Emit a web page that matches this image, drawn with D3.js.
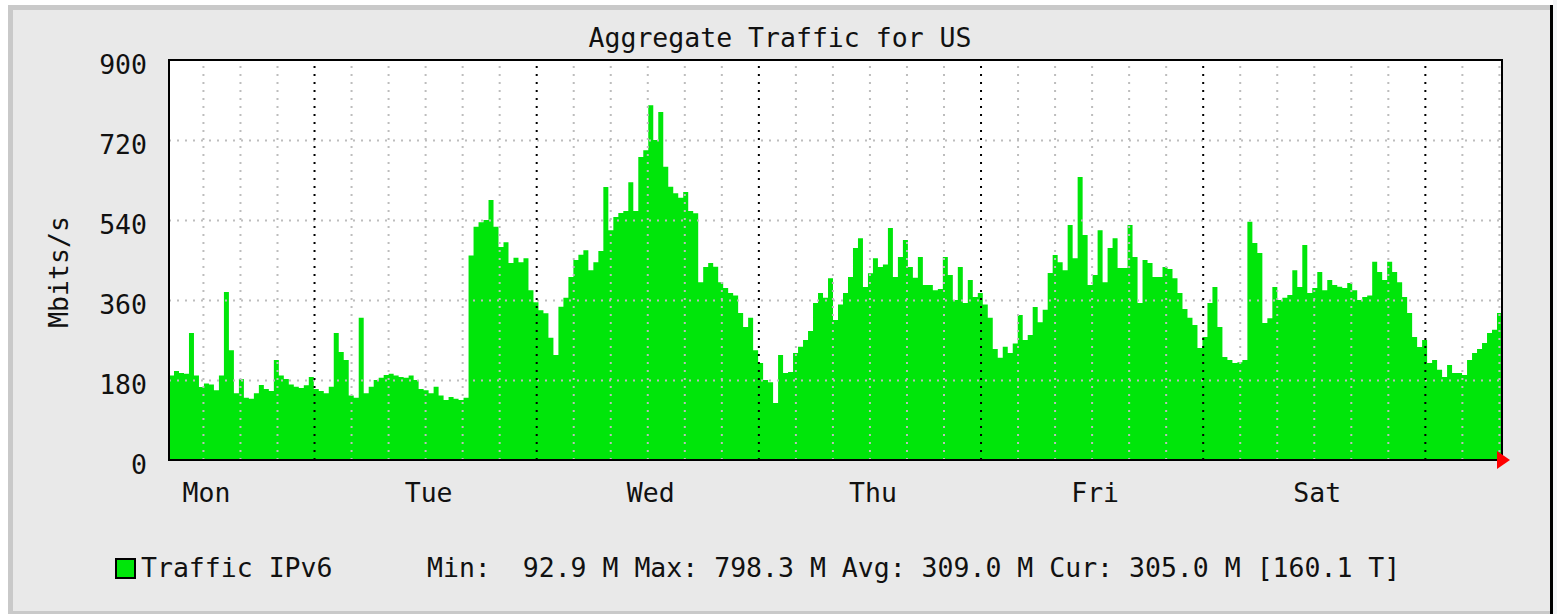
<!DOCTYPE html>
<html>
<head>
<meta charset="utf-8">
<script src="https://cdn.jsdelivr.net/npm/d3@7"></script>
<style>
  html, body { margin: 0; padding: 0; background: #fff; }
  svg { display: block; }
  text { font-family: "DejaVu Sans Mono", monospace; fill: #111; }
</style>
</head>
<body>
<script>
// chart data
var title = "Aggregate Traffic for US";
var yLabel = "Mbits/s";
var yTicks = [0, 180, 360, 540, 720, 900];
var yGrid = [180, 360, 540, 720];
var dayLabels = ["Mon", "Tue", "Wed", "Thu", "Fri", "Sat"];
var seriesName = "Traffic IPv6";
var legendStats = "Min:  92.9 M Max: 798.3 M Avg: 309.0 M Cur: 305.0 M [160.1 T]";
var startTime = Date.UTC(2012, 0, 2, 8, 20);   // Monday morning
var endTime = Date.UTC(2012, 0, 8, 8, 20);     // Sunday morning

// Mbits/s, evenly spaced samples over the window
var traffic = [
  190,200,196,194,286,190,164,172,170,157,
  190,378,247,150,182,140,138,150,169,160,
  155,225,190,182,170,165,162,168,187,160,
  155,150,165,286,243,225,145,140,320,150,
  165,180,185,191,194,190,187,185,190,180,
  160,157,150,165,
  145,135,142,138,135,140,460,525,535,540,
  585,525,479,490,443,455,445,454,382,355,
  337,330,275,236,345,365,412,450,462,472,
  427,445,470,614,517,547,556,560,625,560,
  682,697,798,720,783,660,615,600,590,603,
  560,555,400,434,
  443,435,400,387,376,370,331,299,320,247,
  218,180,175,128,236,196,198,241,255,270,
  290,353,376,365,409,315,350,376,412,477,
  499,389,420,454,434,440,522,412,457,495,
  434,410,457,394,394,382,385,457,416,360,
  434,353,405,367,
  376,350,320,250,230,255,241,262,326,270,
  281,344,310,338,421,461,445,427,529,454,
  637,506,394,416,517,400,477,499,432,432,
  529,457,353,450,443,412,412,434,430,409,
  376,340,320,304,252,277,353,389,299,232,
  225,218,220,225,
  536,488,466,308,319,389,360,365,371,427,
  389,484,376,387,423,382,405,394,390,387,
  398,382,360,367,370,446,423,405,446,423,
  400,367,331,277,254,270,218,225,203,187,
  214,196,196,191,225,241,250,263,286,293,
  331
];

var W = 1557, H = 614;
var plot = { left: 169, top: 60, right: 1502, bottom: 460 };
var green = "#00e60a";

var svg = d3.select("body").append("svg")
  .attr("width", W)
  .attr("height", H);

// outer canvas with its border
svg.append("rect").attr("x", 8).attr("y", 5).attr("width", W - 8).attr("height", H - 5).attr("fill", "#c9c9c9");
svg.append("rect").attr("x", 13).attr("y", 10).attr("width", 1537).attr("height", 601).attr("fill", "#e9e9e9");
svg.append("rect").attr("x", 1550).attr("y", 5).attr("width", 3).attr("height", H - 5).attr("fill", "#000");
svg.append("rect").attr("x", 1553).attr("y", 0).attr("width", 4).attr("height", H).attr("fill", "#f3f5f7");

var x = d3.scaleUtc()
  .domain([new Date(startTime), new Date(endTime)])
  .range([plot.left, plot.right]);
var y = d3.scaleLinear()
  .domain([0, 900])
  .range([plot.bottom, plot.top]);

var plotW = plot.right - plot.left;
var plotH = plot.bottom - plot.top;

svg.append("rect")
  .attr("x", plot.left).attr("y", plot.top)
  .attr("width", plotW).attr("height", plotH)
  .attr("fill", "#fff");

// data as step area
var step = (endTime - startTime) / traffic.length;
var points = traffic.map(function (v, i) {
  return { t: new Date(startTime + i * step), v: v };
});
points.push({ t: new Date(endTime), v: traffic[traffic.length - 1] });

var area = d3.area()
  .curve(d3.curveStepAfter)
  .x(function (d) { return x(d.t); })
  .y0(y(0))
  .y1(function (d) { return y(d.v); });

svg.append("path")
  .datum(points)
  .attr("d", area)
  .attr("fill", green);

// grid, drawn over the data like rrdtool does
var days = d3.utcDay.range(new Date(startTime), new Date(endTime));
var minorTimes = d3.utcHour.every(4).range(new Date(startTime), new Date(endTime))
  .filter(function (d) { return d.getUTCHours() !== 0; });
var noons = days.map(function (d) { return d3.utcHour.offset(d, -12); })
  .concat([d3.utcHour.offset(days[days.length - 1], 12)])
  .filter(function (d) { return d >= x.domain()[0] && d <= x.domain()[1]; });

var gMinor = svg.append("g")
  .attr("transform", "translate(0," + plot.bottom + ")")
  .call(d3.axisBottom(x).tickValues(minorTimes).tickSize(-plotH).tickFormat(""));
gMinor.select(".domain").remove();
gMinor.selectAll("line")
  .attr("stroke", "#bdbdbd")
  .attr("stroke-width", 2)
  .attr("stroke-dasharray", "2,6");

var gH = svg.append("g")
  .attr("transform", "translate(" + plot.left + ",0)")
  .call(d3.axisLeft(y).tickValues(yGrid).tickSize(-plotW).tickFormat(""));
gH.select(".domain").remove();
gH.selectAll("line")
  .attr("stroke", "#bdbdbd")
  .attr("stroke-width", 2)
  .attr("stroke-dasharray", "2,6");

var gMajor = svg.append("g")
  .attr("transform", "translate(0," + plot.bottom + ")")
  .call(d3.axisBottom(x).tickValues(days).tickSize(-plotH).tickFormat(""));
gMajor.select(".domain").remove();
gMajor.selectAll("line")
  .attr("stroke", "#000")
  .attr("stroke-width", 2)
  .attr("stroke-dasharray", "2,6");

// plot frame
svg.append("rect")
  .attr("x", plot.left).attr("y", plot.top)
  .attr("width", plotW).attr("height", plotH)
  .attr("fill", "none")
  .attr("stroke", "#000")
  .attr("stroke-width", 2);

// axis labels
var fontSize = "26.5px";

var yAxis = svg.append("g")
  .attr("transform", "translate(" + plot.left + ",0)")
  .call(d3.axisLeft(y).tickValues(yTicks).tickSize(0).tickPadding(22));
yAxis.select(".domain").remove();
yAxis.selectAll("text")
  .attr("y", 5)
  .style("font-size", fontSize)
  .style("font-family", "DejaVu Sans Mono, monospace")
  .attr("fill", "#111");

var xAxis = svg.append("g")
  .attr("transform", "translate(0," + plot.bottom + ")")
  .call(d3.axisBottom(x).tickValues(noons).tickSize(0).tickPadding(23)
    .tickFormat(function (d, i) { return dayLabels[i]; }));
xAxis.select(".domain").remove();
xAxis.selectAll("text")
  .attr("dx", 3)
  .style("font-size", fontSize)
  .style("font-family", "DejaVu Sans Mono, monospace")
  .attr("fill", "#111");

// red arrow at the end of the time axis
var ax = x.range()[1], ay = y(0);
svg.append("path")
  .attr("d", "M" + (ax - 5) + "," + (ay - 9) + "L" + (ax - 5) + "," + (ay + 9) + "L" + (ax + 8) + "," + ay + "Z")
  .attr("fill", "#ff0000");

// title and y label
svg.append("text")
  .attr("x", 780).attr("y", 47)
  .attr("text-anchor", "middle")
  .style("font-size", fontSize)
  .text(title);

svg.append("text")
  .attr("transform", "translate(68," + ((plot.top + plot.bottom) / 2 + 12) + ") rotate(-90)")
  .attr("text-anchor", "middle")
  .style("font-size", fontSize)
  .text(yLabel);

// legend
svg.append("rect")
  .attr("x", 116).attr("y", 559)
  .attr("width", 19).attr("height", 19)
  .attr("fill", green)
  .attr("stroke", "#000")
  .attr("stroke-width", 2);
svg.append("text")
  .attr("x", 141).attr("y", 577)
  .style("font-size", fontSize)
  .text(seriesName);
svg.append("text")
  .attr("x", 427).attr("y", 577)
  .style("font-size", fontSize)
  .style("white-space", "pre")
  .attr("xml:space", "preserve")
  .text(legendStats);
</script>
</body>
</html>
